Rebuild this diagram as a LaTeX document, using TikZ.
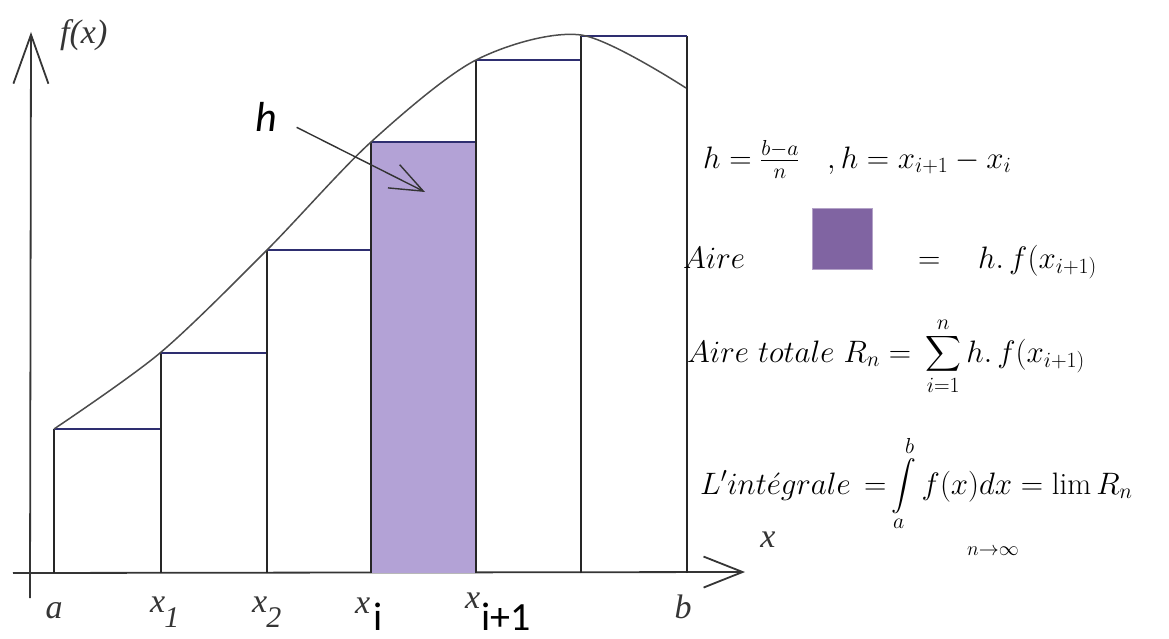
\RequirePackage{fix-cm}
\documentclass[tikz,border=0pt]{standalone}
\usepackage{fontspec}
\usepackage{amsmath}
\usetikzlibrary{arrows.meta}
\newfontfamily\timesfont{Liberation Serif}
\newfontfamily\calfont{Carlito}
\definecolor{barpurple}{HTML}{B3A2D6}
\definecolor{keypurple}{HTML}{8064A2}
\definecolor{topblue}{HTML}{2E2E70}
\definecolor{labgrey}{HTML}{353535}
\tikzset{
  axisline/.style={line width=1.8pt,draw=labgrey},
  barline/.style={line width=1.8pt,draw=black!85},
  topline/.style={line width=1.8pt,draw=topblue},
  curveline/.style={line width=1.5pt,draw=black!70},
  axislab/.style={font=\timesfont\itshape\fontsize{34}{34}\selectfont,text=labgrey,inner sep=0pt},
  sanslab/.style={font=\calfont\fontsize{40}{40}\selectfont,inner sep=0pt},
  formula/.style={font=\fontsize{31}{31}\selectfont,inner sep=0pt,anchor=base west}
}
\begin{document}
\begin{tikzpicture}[x=1pt,y=-1pt]
\useasboundingbox (0,0) rectangle (1169,639);
% axes
\draw[axisline,-{Straight Barb[length=39pt,width=31pt]}] (13,573) -- (745,572);
\draw[axisline,-{Straight Barb[length=49pt,width=35pt]}] (30,598) -- (31,32);
% rectangles
\fill[barpurple] (371,573) rectangle (476,142);
\foreach \xa/\xb/\t in {54/161/429,161/267/353,267/371/250,371/476/142,476/581/60,581/687/36}{
  \draw[barline] (\xa,573) -- (\xa,\t) (\xb,573) -- (\xb,\t);
  \draw[topline] (\xa,\t) -- (\xb,\t);
}
% f
\draw[curveline] plot[smooth] coordinates {(54,429) (160,353) (267,250) (371,142) (476,60) (581,35) (686,88)};
% labels on the axes
\node[axislab,anchor=base west] (fx) at (60,44) {f(x)};
\node[axislab] (xlab) at (768,540) {x};
\node[axislab,anchor=base] (la) at (54,618) {a};
\node[axislab,anchor=base west] (lx1) at (150,612) {x\kern-1pt\raisebox{-15pt}{\fontsize{30}{30}\selectfont 1}};
\node[axislab,anchor=base west] (lx2) at (252,612) {x\kern-1pt\raisebox{-15pt}{\fontsize{30}{30}\selectfont 2}};
\node[axislab,anchor=base west] (lxi) at (355,613) {x};
\node[sanslab,anchor=base west] (li) at (373,630) {i};
\node[axislab,anchor=base west] (lxj) at (465,608) {x};
\node[sanslab,anchor=base west] (lj) at (481,630) {i+1};
\node[axislab,anchor=base] (lb) at (683,618) {b};
% h
\node[sanslab,font=\calfont\itshape\fontsize{42}{42}\selectfont,anchor=base west] (hlab) at (255,132) {h};
\coordinate (hpt) at (425,192);
\draw[line width=1.4pt,draw=black!80,shorten <=22pt,-{Straight Barb[length=33pt,width=26pt]}] (hlab.east) -- (hpt);
% formulas
\node[formula] (hdef) at (703,168) {$h=\tfrac{b-a}{n}$};
\node[formula] (hdiff) at (827,168) {$,h=x_{i+1}-x_i$};
\node[formula] (aire) at (683,268) {$Aire$};
\draw[fill=keypurple,draw=keypurple!60,line width=.8pt] (812,208) rectangle (872,269);
\node[formula] (aeq) at (918,268) {$=$};
\node[formula] (aval) at (978,268) {$h.\,f(x_{i+1)}$};
\node[formula] (total) at (687,362) {$Aire\ totale\ R_n=$};
\node[formula] (sum) at (925,362) {$\displaystyle\sum_{i=1}^{n}h.\,f(x_{i+1)}$};
\node[formula] (lint) at (700,494) {$L'int\acute{e}grale$};
\node[formula] (intg) at (864,494) {$\displaystyle{=}\int\limits_a^b f(x)dx=\lim R_n$};
\node[font=\fontsize{20}{20}\selectfont,inner sep=0pt] (lim) at (993,551) {$n{\to}\infty$};
\end{tikzpicture}
\end{document}
